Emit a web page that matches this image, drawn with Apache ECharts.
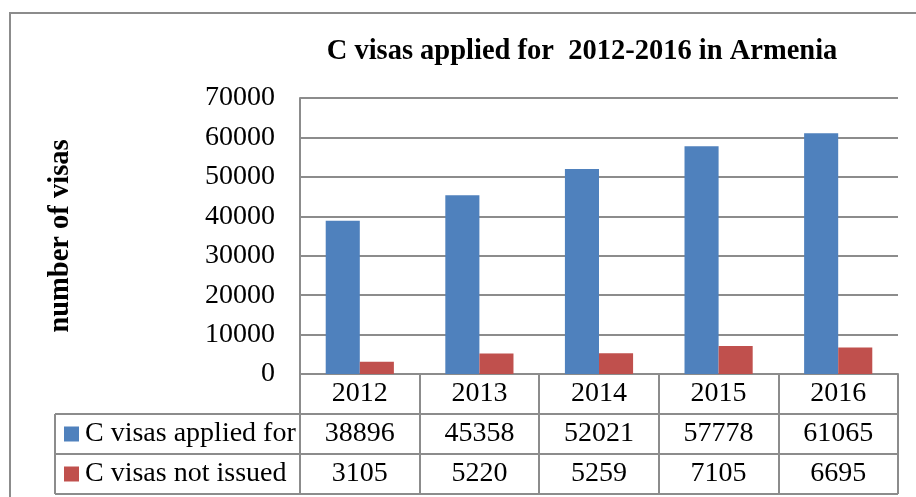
<!DOCTYPE html>
<html>
<head>
<meta charset="utf-8">
<script src="https://cdn.jsdelivr.net/npm/echarts@6/dist/echarts.min.js"></script>
<style>
    html, body { margin: 0; padding: 0; background: #fff; }
    #chart { width: 916px; height: 497px; }
</style>
</head>
<body>
<div id="chart"></div>
<script>
    // data
    const years = ['2012', '2013', '2014', '2015', '2016'];
    const appliedFor = [38896, 45358, 52021, 57778, 61065];
    const notIssued = [3105, 5220, 5259, 7105, 6695];
    const seriesNames = ['C visas applied for', 'C visas not issued'];
    const colors = ['#4f81bd', '#c0504d'];

    const FONT = 'Liberation Serif';
    const GRAY = '#8c8c8c';
    const ROW = 40;

    const chart = echarts.init(document.getElementById('chart'));

    // one category axis per table row, stacked downwards with offset
    function tableAxis(data, offset) {
        return {
            type: 'category',
            data: data,
            position: 'bottom',
            offset: offset,
            axisLine: { show: true, lineStyle: { color: GRAY, width: 2 } },
            axisTick: { show: true, length: ROW, interval: 0, lineStyle: { color: GRAY, width: 2 } },
            axisLabel: {
                interval: 0,
                margin: ROW / 2,
                verticalAlign: 'middle',
                color: '#000',
                fontFamily: FONT,
                fontSize: 28
            }
        };
    }

    let option = {
        animation: false,
        title: {
            text: 'C visas applied for  2012-2016 in Armenia',
            left: 577,
            top: 32,
            textAlign: 'center',
            textStyle: { fontFamily: FONT, fontWeight: 'bold', fontSize: 28.5, color: '#000' }
        },
        grid: { left: 300, right: 18, top: 98, bottom: 123, containLabel: false },
        xAxis: [
            tableAxis(years, 0),
            tableAxis(appliedFor.map(String), ROW),
            tableAxis(notIssued.map(String), ROW * 2)
        ],
        yAxis: {
            type: 'value',
            min: 0,
            max: 70000,
            interval: 10000,
            name: 'number of visas',
            nameLocation: 'middle',
            nameGap: 225,
            nameTextStyle: { fontFamily: FONT, fontWeight: 'bold', fontSize: 28.5, color: '#000' },
            axisLine: { show: true, lineStyle: { color: GRAY, width: 2 } },
            axisTick: { show: false },
            splitLine: { lineStyle: { color: GRAY, width: 2 } },
            axisLabel: {
                margin: 25,
                color: '#000',
                fontFamily: FONT,
                fontSize: 28,
                formatter: (v) => String(v)
            }
        },
        series: [
            {
                name: seriesNames[0],
                type: 'bar',
                data: appliedFor,
                barWidth: '28.5%',
                barGap: '0%',
                itemStyle: { color: colors[0] }
            },
            {
                name: seriesNames[1],
                type: 'bar',
                data: notIssued,
                barWidth: '28.5%',
                itemStyle: { color: colors[1] }
            }
        ]
    };
    chart.setOption(option);

    // table frame + legend column, placed from the axis scales
    const c0 = chart.convertToPixel({ xAxisIndex: 0 }, years[0]);
    const c1 = chart.convertToPixel({ xAxisIndex: 0 }, years[1]);
    const band = c1 - c0;
    const plotLeft = c0 - band / 2;
    const plotRight = plotLeft + band * years.length;
    const y0 = chart.convertToPixel({ yAxisIndex: 0 }, 0);
    const tableLeft = 55;

    const lineStyle = { stroke: GRAY, lineWidth: 2 };
    let elements = [
        // outer chart frame (right/bottom sides fall off the picture)
        { type: 'rect', shape: { x: 10, y: 13, width: 1000, height: 1000 }, style: { fill: null, stroke: GRAY, lineWidth: 2 }, silent: true },
        { type: 'line', shape: { x1: tableLeft, y1: y0 + ROW, x2: plotLeft, y2: y0 + ROW }, style: lineStyle },
        { type: 'line', shape: { x1: tableLeft, y1: y0 + ROW * 2, x2: plotLeft, y2: y0 + ROW * 2 }, style: lineStyle },
        { type: 'line', shape: { x1: tableLeft, y1: y0 + ROW * 3, x2: plotRight, y2: y0 + ROW * 3 }, style: lineStyle },
        { type: 'line', shape: { x1: tableLeft, y1: y0 + ROW, x2: tableLeft, y2: y0 + ROW * 3 }, style: lineStyle }
    ];
    seriesNames.forEach((name, i) => {
        let cy = y0 + ROW * (i + 1.5);
        elements.push({ type: 'rect', shape: { x: 64, y: cy - 7.5, width: 15, height: 15 }, style: { fill: colors[i] } });
        elements.push({
            type: 'text',
            x: 85,
            y: cy,
            style: { text: name, fontFamily: FONT, fontSize: 28, fill: '#000', verticalAlign: 'middle', align: 'left' }
        });
    });
    chart.setOption({ graphic: { elements: elements } });
</script>
</body>
</html>
